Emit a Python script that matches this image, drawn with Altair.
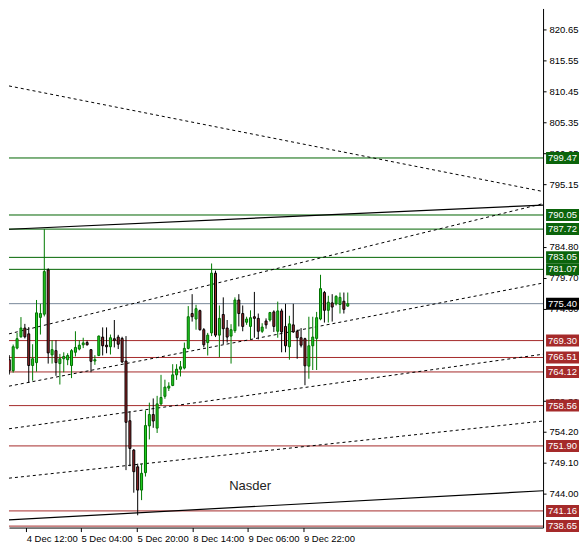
import altair as alt
import pandas as pd

# ---- candle data ----
opens = [766.14, 764.33, 768.06, 769.93, 771.37, 770.41, 765.18, 765.66, 773.13, 773.66,
         780.97, 766.94, 767.64, 765.50, 766.30, 766.14, 765.18, 767.37, 767.90, 768.60,
         768.97, 767.80, 765.93, 766.84, 769.88, 768.54, 768.28, 769.61, 769.88, 769.66,
         765.93, 756.06, 751.21, 748.44, 744.60, 747.48, 755.21, 757.08, 754.84, 758.84,
         760.09, 761.45, 761.88, 763.64, 764.57, 764.76, 768.01, 773.77, 772.86, 774.25,
         771.10, 768.97, 770.57, 780.44, 770.20, 773.61, 771.37, 770.04, 770.94, 776.01,
         773.77, 772.33, 771.64, 773.24, 772.97, 770.84, 772.54, 772.70, 774.04, 770.84,
         774.20, 771.64, 768.28, 771.90, 770.84, 769.77, 769.61, 765.08, 768.44, 769.66,
         772.86, 777.24, 774.30, 775.53, 775.37, 775.26, 775.80, 775.00]
highs = [766.89, 768.65, 770.57, 773.18, 772.06, 771.53, 768.70, 776.01, 775.37, 787.72,
         781.24, 769.34, 769.34, 767.10, 767.37, 767.21, 767.90, 770.84, 769.34, 769.77,
         769.29, 767.90, 766.89, 770.14, 771.48, 771.48, 770.30, 772.70, 770.25, 769.93,
         770.04, 757.61, 751.37, 748.97, 748.97, 757.77, 759.05, 759.74, 760.17, 763.64,
         762.84, 762.41, 765.40, 765.40, 765.93, 768.97, 775.00, 776.97, 775.21, 774.41,
         771.37, 770.57, 782.04, 780.86, 775.10, 776.44, 772.70, 772.01, 776.44, 776.97,
         775.10, 773.24, 774.30, 777.34, 773.77, 772.17, 772.97, 774.04, 774.30, 775.74,
         774.57, 775.37, 773.40, 775.37, 771.10, 771.37, 769.77, 773.24, 773.24, 774.04,
         780.17, 777.50, 776.70, 776.97, 776.81, 777.24, 777.24, 777.24]
lows = [763.69, 764.01, 767.85, 769.77, 769.66, 762.30, 762.68, 764.17, 770.30, 773.29,
        765.50, 765.50, 763.48, 762.04, 764.06, 765.24, 763.10, 766.68, 767.69, 768.06,
        768.49, 764.06, 765.29, 766.73, 766.84, 767.21, 767.00, 768.17, 767.90, 765.61,
        747.90, 748.54, 744.17, 740.44, 742.94, 746.84, 752.97, 754.89, 754.04, 758.57,
        759.69, 760.97, 761.77, 762.81, 763.37, 764.54, 767.85, 772.44, 771.10, 770.94,
        768.17, 766.84, 770.04, 769.88, 766.57, 768.70, 768.97, 765.50, 770.57, 771.64,
        770.84, 771.90, 769.50, 769.77, 769.50, 770.57, 771.26, 772.44, 770.73, 769.77,
        767.37, 767.37, 766.14, 770.57, 766.30, 768.17, 761.93, 763.00, 764.44, 764.44,
        772.65, 772.28, 772.28, 772.44, 775.10, 773.77, 773.77, 774.89]
closes = [764.33, 768.28, 769.61, 771.37, 769.93, 765.18, 766.30, 773.88, 773.77, 780.70,
          767.26, 767.80, 765.66, 766.30, 766.68, 766.84, 767.64, 768.17, 768.54, 768.92,
          768.60, 765.88, 766.14, 770.04, 768.44, 768.28, 769.77, 769.34, 768.70, 765.77,
          755.80, 751.48, 747.64, 744.60, 747.37, 755.26, 757.08, 756.01, 758.84, 759.90,
          761.61, 761.77, 763.64, 764.57, 764.97, 768.01, 773.24, 773.24, 774.57, 771.10,
          768.60, 770.20, 780.44, 770.20, 772.97, 771.26, 769.88, 771.10, 776.01, 773.77,
          771.64, 772.86, 773.08, 772.97, 770.84, 771.53, 771.90, 773.93, 771.64, 774.20,
          770.73, 768.44, 772.06, 770.73, 769.77, 768.54, 765.13, 768.44, 769.88, 773.08,
          777.88, 774.30, 775.64, 774.84, 776.60, 776.44, 774.46, 775.40]

# ---- horizontal levels ----
level_prices = [799.47, 790.05, 787.72, 783.05, 781.07, 775.40,
                769.30, 766.51, 764.12, 758.56, 751.90, 741.16, 738.65]
level_kinds = ["res", "res", "res", "res", "res", "bid",
               "sup", "sup", "sup", "sup", "sup", "sup", "sup"]

# ---- trend lines (bar index, price) ----
trend_names = ["t1", "t2", "t3", "t4", "t5", "t6", "t7"]
trend_start_idx = [-0.075] * 7
trend_end_idx = [137.2] * 7
trend_start_price = [811.37, 770.41, 761.77, 754.73, 746.57, 739.69, 787.69]
trend_end_price = [793.93, 791.93, 778.81, 767.05, 756.01, 744.49, 791.69]
trend_style = ["dot", "dot", "dot", "dot", "dot", "solid", "solid"]

# ---- axes ----
y_ticks = [820.65, 815.55, 810.45, 805.35, 800.25, 795.15, 784.80, 779.70,
           774.60, 759.30, 754.20, 749.10, 744.00]
x_tick_pos = [4.35, 18.425, 32.85, 47.175, 61.35, 75.6]
x_tick_labels = ["4 Dec 12:00", "5 Dec 04:00", "5 Dec 20:00", "8 Dec 14:00",
                 "9 Dec 06:00", "9 Dec 22:00"]
x_domain = [-0.075, 137.2]
y_domain = [738.41, 824.17]

annot_text = ["Nasder"]
annot_idx = [61.9]
annot_price = [745.3]

W, H = 535, 520
FONT = "Liberation Sans"
GREEN = "#006400"
RED = "#a52a2a"
GREY = "#778899"

bars = pd.DataFrame({"k": list(range(len(opens))), "open": opens, "high": highs,
                     "low": lows, "close": closes})
bars["dir"] = ["up" if c >= o else "down" for o, c in zip(opens, closes)]

levels = pd.DataFrame({"price": level_prices, "kind": level_kinds})

trend_rows = []
for n, i0, i1, p0, p1, s in zip(trend_names, trend_start_idx, trend_end_idx,
                                trend_start_price, trend_end_price, trend_style):
    trend_rows.append({"name": n, "idx": i0, "price": p0, "style": s})
    trend_rows.append({"name": n, "idx": i1, "price": p1, "style": s})
trends = pd.DataFrame(trend_rows)

annot = pd.DataFrame({"text": annot_text, "idx": annot_idx, "price": annot_price})

expr = "''"
for p, l in reversed(list(zip(x_tick_pos, x_tick_labels))):
    expr = f"datum.value == {p} ? '{l}' : ({expr})"

xscale = alt.Scale(domain=x_domain, nice=False, zero=False, padding=0)
yscale = alt.Scale(domain=y_domain, nice=False, zero=False, padding=0)
xaxis = alt.Axis(values=x_tick_pos, labelExpr=expr, title=None, grid=False,
                 tickSize=4, labelAlign="left", labelPadding=2, labelFlush=False,
                 labelOverlap=False, domainColor="black", tickColor="black",
                 labelColor="black", labelFont=FONT, labelFontSize=9.5)
yaxis = alt.Axis(values=y_ticks, format=".2f", orient="right", title=None, grid=False,
                 tickSize=3, labelPadding=3, labelOverlap=False, labelFlush=False,
                 domainColor="black", tickColor="black", labelColor="black",
                 labelFont=FONT, labelFontSize=9.5, labelBaseline="middle")


def X(field):
    return alt.X(f"{field}:Q", scale=xscale, axis=xaxis)


def Y(field):
    return alt.Y(f"{field}:Q", scale=yscale, axis=yaxis)


layers = []
# level lines
for kind, col in [("res", GREEN), ("sup", RED), ("bid", GREY)]:
    layers.append(alt.Chart(levels).transform_filter(f"datum.kind == '{kind}'")
                  .mark_rule(color=col, strokeWidth=1).encode(y=Y("price")))

# trend lines
layers.append(alt.Chart(trends).transform_filter("datum.style == 'solid'")
              .mark_line(color="black", strokeWidth=1.2, clip=True)
              .encode(x=X("idx"), y=Y("price"), detail="name:N"))
layers.append(alt.Chart(trends).transform_filter("datum.style == 'dot'")
              .mark_line(color="black", strokeWidth=1, strokeDash=[3, 3], clip=True)
              .encode(x=X("idx"), y=Y("price"), detail="name:N"))

# candles
for d, wick, fill, stroke in [("up", "#007a00", "#22d022", "#006e00"),
                              ("down", "black", "#a0282d", "black")]:
    base = alt.Chart(bars).transform_filter(f"datum.dir == '{d}'")
    layers.append(base.mark_rule(color=wick, strokeWidth=1, clip=True)
                  .encode(x=X("k"), y=Y("low"), y2="high:Q"))
    layers.append(base.mark_bar(size=2, fill=fill, stroke=stroke, strokeWidth=1, clip=True)
                  .encode(x=X("k"), y=Y("open"), y2="close:Q"))

# annotation text
layers.append(alt.Chart(annot).mark_text(font=FONT, fontSize=13, color="#222222",
                                          align="center", baseline="middle")
              .encode(x=X("idx"), y=Y("price"), text="text:N"))

# price tags on the right
for kind, col in [("res", "#0b640b"), ("sup", RED), ("bid", "black")]:
    base = alt.Chart(levels).transform_filter(f"datum.kind == '{kind}'")
    layers.append(base.mark_rect(fill=col, yOffset=-6, y2Offset=6)
                  .encode(x=alt.value(W + 3), x2=alt.value(W + 36),
                          y=Y("price"), y2="price:Q"))
    layers.append(base.mark_text(font=FONT, fontSize=9.5, color="white",
                                 align="left", baseline="middle")
                  .encode(x=alt.value(W + 5), y=Y("price"),
                          text=alt.Text("price:Q", format=".2f")))

chart = alt.layer(*layers).properties(
    width=W, height=H, padding=0, background="white"
).configure_view(stroke=None)

chart.save("out.html", embed_options={"renderer": "svg", "actions": False})
